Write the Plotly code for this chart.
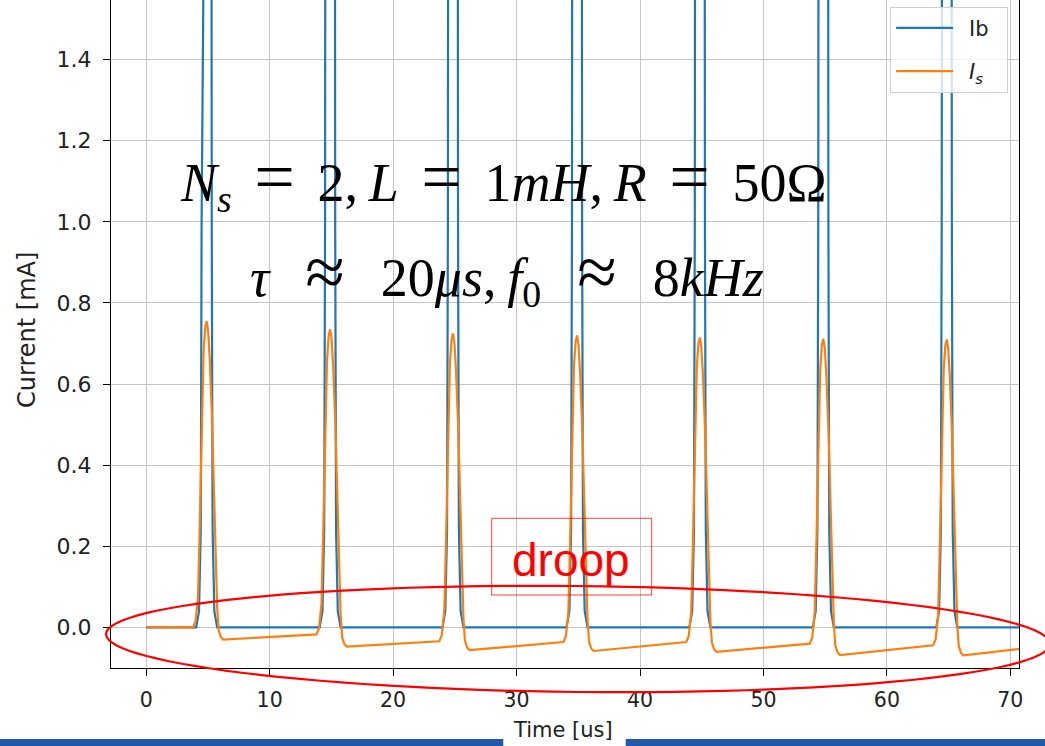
import math
import plotly.graph_objects as go

# ---------------- data ----------------
pulse_centers = [4.9, 14.9, 24.85, 34.9, 44.85, 54.85, 64.85]          # us
is_peaks = [0.755, 0.735, 0.725, 0.72, 0.715, 0.712, 0.71]            # mA, I_s pulse tops
is_trough = [-0.030, -0.047, -0.056, -0.058, -0.060, -0.068, -0.069]  # mA, I_s right after each pulse
is_before_next = [-0.017, -0.034, -0.036, -0.036, -0.040, -0.044, -0.052]  # mA, I_s before next rise / at end
ib_peak = 4.0          # mA, Ib pulse top (off scale)
t_start, t_end = 0.0, 71.0

# pulse profile (offset from pulse centre in us, fraction of pulse height)
is_rise_off = [-1.1, -0.9, -0.7, -0.55, -0.4, -0.25, -0.12, 0.0]
is_rise_frac = [0.0, 0.02, 0.10, 0.35, 0.68, 0.90, 0.98, 1.0]
is_fall_off = [0.12, 0.25, 0.42, 0.70, 0.85, 0.97, 1.15, 1.35]
is_fall_frac = [0.97, 0.88, 0.71, 0.29, 0.10, 0.03, 0.008, 0.0]
ib_off = [-0.85, -0.62, -0.48, -0.41, -0.34, 0.34, 0.41, 0.48, 0.62, 0.85]
ib_frac = [0.0, 0.01, 0.06, 0.25, 1.0, 1.0, 0.25, 0.06, 0.01, 0.0]

x_ticks = [0, 10, 20, 30, 40, 50, 60, 70]
y_ticks = [0.0, 0.2, 0.4, 0.6, 0.8, 1.0, 1.2, 1.4]

# ---------------- build series ----------------
t_is, y_is = [t_start], [0.0]
for k, c in enumerate(pulse_centers):
    base = 0.0 if k == 0 else is_before_next[k - 1]
    P = is_peaks[k]
    for o, f in zip(is_rise_off, is_rise_frac):
        t_is.append(c + o); y_is.append(base + f * (P - base))
    m = is_trough[k]
    for o, f in zip(is_fall_off, is_fall_frac):
        t_is.append(c + o); y_is.append(m + f * (P - m))
t_is.append(t_end); y_is.append(is_before_next[-1])

t_ib, y_ib = [t_start], [0.0]
for c in pulse_centers:
    for o, f in zip(ib_off, ib_frac):
        t_ib.append(c + o); y_ib.append(f * ib_peak)
t_ib.append(t_end); y_ib.append(0.0)

# ---------------- figure ----------------
W, H = 1045, 746
L, R, T, B = 111, 26, 0, 78
PW, PH = W - L - R, H - T - B

def px(x):
    return (x - L) / PW

def py(y):
    return (H - B - y) / PH

NB = "\u00a0"
TH = "\u2009"
fig = go.Figure()
fig.add_trace(go.Scatter(x=t_ib, y=y_ib, mode="lines", name=NB + TH + "Ib" + NB + NB,
                         legendgroup="a", line=dict(color="#1f77b4", width=2.2)))
fig.add_trace(go.Scatter(x=t_is, y=y_is, mode="lines", name=NB + TH + "<i>I<sub>s</sub></i>",
                         legendgroup="b", line=dict(color="#ff7f0e", width=2.2)))

axis_common = dict(showgrid=True, gridcolor="#c4c4c4", gridwidth=1, zeroline=False,
                   showline=True, linecolor="black", linewidth=1.3,
                   ticks="outside", ticklen=7, tickcolor="black", tickwidth=1.2)

fig.update_layout(
    width=W, height=H,
    margin=dict(l=L, r=R, t=T, b=B),
    paper_bgcolor="white", plot_bgcolor="white",
    xaxis=dict(range=[-2.85, 70.7], tickvals=x_ticks, ticklabelstandoff=6,
               tickfont=dict(family="DejaVu Sans", size=20.5, color="#222222"), **axis_common),
    yaxis=dict(range=[-0.1, 1.547], tickvals=y_ticks, tickformat=".1f", mirror=True,
               ticklabelstandoff=7,
               tickfont=dict(family="DejaVu Sans", size=22, color="#222222"), **axis_common),
    legend=dict(x=0.988, xanchor="right", y=0.99, yanchor="top",
                bgcolor="rgba(255,255,255,0.8)", bordercolor="#d0d0d0", borderwidth=1,
                font=dict(family="DejaVu Sans", size=21, color="#222222"),
                itemwidth=57, tracegroupgap=13),
    showlegend=True,
)

# axis titles
fig.add_annotation(text="Time [us]", xref="paper", yref="paper", x=px(563), y=py(730),
                   showarrow=False, font=dict(family="DejaVu Sans", size=21, color="#222222"),
                   xanchor="center", yanchor="middle")
fig.add_annotation(text="Current [mA]", xref="paper", yref="paper", x=px(27), y=py(330),
                   showarrow=False, textangle=-90,
                   font=dict(family="DejaVu Sans", size=24, color="#222222"),
                   xanchor="center", yanchor="middle")

# formula texts
serif = "Liberation Serif"
EQ = "\u2004\u200a<span style='font-size:72px'>=</span>\u2004\u200a"
AP = "\u2002\u2006<span style='font-size:72px'>\u2248</span>\u2002\u2006"
fig.add_annotation(text=f"<i>N</i><sub><i>s</i></sub>{EQ}2,{TH}<i>L</i>{EQ}1<i>mH</i>,{TH}<i>R</i>{EQ}50Ω",
                   xref="paper", yref="paper", x=px(503), y=py(178), showarrow=False,
                   font=dict(family=serif, size=54, color="black"), xanchor="center", yanchor="middle")
fig.add_annotation(text=f"<i>τ</i>{AP}20<i>μs</i>,{TH}<i>f</i><sub>0</sub>{AP}8<i>kHz</i>",
                   xref="paper", yref="paper", x=px(507), y=py(273), showarrow=False,
                   font=dict(family=serif, size=54, color="black"), xanchor="center", yanchor="middle")

# droop label + box
fig.add_annotation(text="droop", xref="paper", yref="paper", x=px(571), y=py(560), showarrow=False,
                   font=dict(family="Liberation Sans", size=46, color="#ff0000"),
                   xanchor="center", yanchor="middle")
fig.add_shape(type="rect", xref="paper", yref="paper",
              x0=px(491.7), x1=px(651.7), y0=py(595), y1=py(518.3),
              line=dict(color="rgba(255,0,0,0.75)", width=1), layer="above")

# red ellipse (slightly tilted)
cx, cy, a, b, th = 578, 639, 472, 53, math.radians(0.6)
pts = []
for i in range(121):
    s = 2 * math.pi * i / 120
    ex = a * math.cos(s)
    ey = b * math.sin(s)
    X = cx + ex * math.cos(th) - ey * math.sin(th)
    Y = cy + ex * math.sin(th) + ey * math.cos(th)
    pts.append((px(X), py(Y)))
path = "M " + " L ".join(f"{x:.5f},{y:.5f}" for x, y in pts) + " Z"
fig.add_shape(type="path", xref="paper", yref="paper", path=path,
              line=dict(color="#ff0000", width=2.2), layer="above")

# slide bars at the bottom
for x0, x1 in [(0, 503.3), (625.7, 1045)]:
    fig.add_shape(type="rect", xref="paper", yref="paper",
                  x0=px(x0), x1=px(x1), y0=py(746), y1=py(739),
                  line=dict(width=0), fillcolor="#2158a8", layer="above")

fig.write_html("out.html")
